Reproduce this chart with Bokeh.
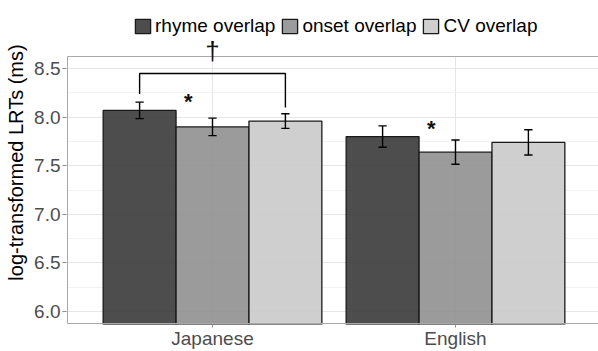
from bokeh.plotting import figure
from bokeh.models import (ColumnDataSource, FixedTicker, Legend, LegendItem)
from bokeh.core.properties import value
from bokeh.embed import file_html
from bokeh.resources import INLINE

# ---- data ----
languages = ["Japanese", "English"]
conditions = ["rhyme overlap", "onset overlap", "CV overlap"]
japanese_means = [8.07, 7.90, 7.96]
english_means = [7.80, 7.64, 7.74]
japanese_err = [0.085, 0.09, 0.075]
english_err = [0.11, 0.125, 0.13]
y_ticks = [6.0, 6.5, 7.0, 7.5, 8.0, 8.5]
y_tick_labels = ["6.0", "6.5", "7.0", "7.5", "8.0", "8.5"]
y_minor = [6.25, 6.75, 7.25, 7.75, 8.25]
bracket_top = 8.45
bracket_left_end = 8.24
bracket_right_end = 8.10
star_positions_x = [0.90, 1.90]
star_positions_y = [8.16, 7.88]

# ---- layout (screen geometry) ----
W, H = 598, 351
FRAME_LEFT = 66          # px from the left of the figure
FRAME_BOTTOM = 324       # px from the top of the figure
PANEL_TOP_PX = 56
PANEL_BOT_PX = FRAME_BOTTOM - 1
PANEL_LO, PANEL_HI = 5.875, 8.625
px_per_y = (PANEL_BOT_PX - PANEL_TOP_PX) / (PANEL_HI - PANEL_LO)
y_start = PANEL_LO - 1 / px_per_y
y_end = PANEL_HI + PANEL_TOP_PX / px_per_y
px_per_x = 243.0
CENTER1_PX = 212
x_start = 1 - (CENTER1_PX - FRAME_LEFT) / px_per_x
x_end = 1 + (W - CENTER1_PX) / px_per_x
panel_left = x_start + 1 / px_per_x

fills = ["#3a3a3a", "#909090", "#cacaca"]
FONT = "Liberation Sans"
offsets = [-0.3, 0.0, 0.3]
bar_w = 0.3
GRID = "#e6e6e6"

p = figure(width=W, height=H, output_backend="svg", toolbar_location=None,
           x_range=(x_start, x_end), y_range=(y_start, y_end),
           min_border_left=FRAME_LEFT, min_border_top=0, min_border_right=0,
           min_border_bottom=H - FRAME_BOTTOM)
p.background_fill_color = "white"
p.border_fill_color = "white"
p.outline_line_color = None

# vertical grid lines only inside the panel
p.segment(x0=[1, 2], y0=[PANEL_LO] * 2, x1=[1, 2], y1=[PANEL_HI] * 2,
          line_color=GRID, line_width=1, level="underlay")

all_means = [japanese_means, english_means]
all_errs = [japanese_err, english_err]

renderers = []
for ci, cond in enumerate(conditions):
    xs = [li + 1 + offsets[ci] for li in range(len(languages))]
    tops = [all_means[li][ci] for li in range(len(languages))]
    errs = [all_errs[li][ci] for li in range(len(languages))]
    src = ColumnDataSource(dict(x=xs, top=tops,
                                lo=[t - e for t, e in zip(tops, errs)],
                                hi=[t + e for t, e in zip(tops, errs)],
                                cl=[x - 0.017 for x in xs],
                                cr=[x + 0.017 for x in xs]))
    r = p.vbar(x="x", top="top", bottom=0, width=bar_w, source=src,
               fill_color=fills[ci], fill_alpha=0.9,
               line_color="#1a1a1a", line_width=1.3)
    renderers.append(r)
    p.segment(x0="x", y0="lo", x1="x", y1="hi", source=src, line_color="black", line_width=1.4)
    p.segment(x0="cl", y0="lo", x1="cr", y1="lo", source=src, line_color="black", line_width=1.4)
    p.segment(x0="cl", y0="hi", x1="cr", y1="hi", source=src, line_color="black", line_width=1.4)

# panel border
p.line(x=[x_end + 1, panel_left, panel_left, x_end + 1],
       y=[PANEL_HI, PANEL_HI, PANEL_LO, PANEL_LO],
       line_color="#a8a8a8", line_width=1)

# bracket between rhyme and CV (Japanese)
bx0 = 1 + offsets[0]
bx1 = 1 + offsets[2]
p.line(x=[bx0, bx0, bx1, bx1],
       y=[bracket_left_end, bracket_top, bracket_top, bracket_right_end],
       line_color="black", line_width=1.4)

p.text(x=star_positions_x, y=star_positions_y, text=["*", "*"],
       text_font=value(FONT), text_font_size="22px", text_color="#111111",
       text_font_style="bold", text_align="center", text_baseline="middle")

# dagger just above the panel over the Japanese group
p.text(x=[1.0], y=[PANEL_HI + 6 / px_per_y], text=["†"],
       text_font=value(FONT), text_font_size="26px", text_color="#111111",
       text_align="center", text_baseline="alphabetic")

legend = Legend(items=[LegendItem(label=c, renderers=[r]) for c, r in zip(conditions, renderers)],
                orientation="horizontal", location=(133 - FRAME_LEFT, FRAME_BOTTOM - 37),
                glyph_width=19, glyph_height=18, label_standoff=3, spacing=5,
                padding=0, margin=0, label_text_font=FONT, label_text_font_size="19px",
                label_text_color="black", background_fill_alpha=0,
                border_line_color=None, label_height=18)
p.add_layout(legend)

# axes
p.xaxis.ticker = FixedTicker(ticks=[1, 2])
p.xaxis.major_label_overrides = {1: languages[0], 2: languages[1]}
p.yaxis.ticker = FixedTicker(ticks=y_ticks, minor_ticks=y_minor)
p.yaxis.major_label_overrides = {t: l for t, l in zip(y_ticks, y_tick_labels)}
p.yaxis.bounds = (PANEL_LO, PANEL_HI)
for ax in (p.xaxis, p.yaxis):
    ax.axis_line_color = None
    ax.major_tick_line_color = "#8c8c8c"
    ax.major_tick_out = 4
    ax.major_tick_in = 0
    ax.minor_tick_line_color = None
    ax.major_label_text_font = FONT
    ax.major_label_text_font_size = "19px"
    ax.major_label_text_color = "#4d4d4d"
p.xaxis.major_tick_out = 3
p.xaxis.major_label_standoff = 0
p.yaxis.major_label_standoff = 2
p.yaxis.axis_label = "log-transformed LRTs (ms)"
p.yaxis.axis_label_text_font = FONT
p.yaxis.axis_label_text_font_size = "20px"
p.yaxis.axis_label_text_font_style = "normal"
p.yaxis.axis_label_text_color = "black"
p.yaxis.axis_label_standoff = 4

p.xgrid.grid_line_color = None
p.ygrid.grid_line_color = GRID
p.ygrid.minor_grid_line_color = "#f2f2f2"
p.ygrid.grid_line_width = 1

open("out.html", "w").write(file_html(p, INLINE))
